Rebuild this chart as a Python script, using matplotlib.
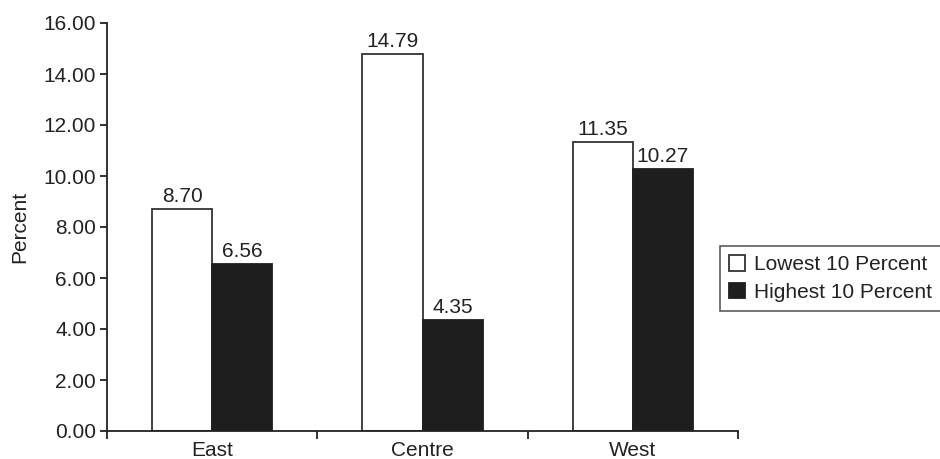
import numpy as np
import matplotlib.pyplot as plt

plt.rcParams['font.family'] = ['Liberation Sans', 'DejaVu Sans']

regions = ['East', 'Centre', 'West']
lowest = [8.70, 14.79, 11.35]
highest = [6.56, 4.35, 10.27]

fig = plt.figure(figsize=(9.4, 4.59), dpi=100)
ax = fig.add_axes([107 / 940, 1 - 431 / 459, (738 - 107) / 940, (431 - 23) / 459])

x = np.arange(len(regions))
w = 0.286
b1 = ax.bar(x - w / 2, lowest, w, color='white', edgecolor='#333333', linewidth=1.3,
            label='Lowest 10 Percent')
b2 = ax.bar(x + w / 2, highest, w, color='#1e1e1e', edgecolor='#1e1e1e', linewidth=1.3,
            label='Highest 10 Percent')

for bars, vals in ((b1, lowest), (b2, highest)):
    for r, v in zip(bars, vals):
        ax.annotate('%.2f' % v, (r.get_x() + r.get_width() / 2, v),
                    xytext=(0, 2), textcoords='offset points',
                    ha='center', va='bottom', fontsize=15, color='#222222')

ax.set_xlim(-0.5, 2.5)
ax.set_ylim(0, 16)
ax.set_yticks(np.arange(0, 17, 2))
ax.set_yticklabels(['%.2f' % t for t in np.arange(0, 17, 2)])
ax.set_xticks(x)
ax.set_xticklabels(regions)
ax.set_xticks([-0.5, 0.5, 1.5, 2.5], minor=True)
ax.tick_params(axis='x', which='major', length=0, labelsize=15, colors='#222222', pad=7)
ax.tick_params(axis='x', which='minor', length=6, width=1.3, color='#222222')
ax.tick_params(axis='y', length=5, width=1.3, labelsize=15, colors='#222222', pad=3)
ax.set_ylabel('Percent', fontsize=15, color='#222222', labelpad=10)

for s in ('top', 'right'):
    ax.spines[s].set_visible(False)
for s in ('left', 'bottom'):
    ax.spines[s].set_linewidth(1.3)
    ax.spines[s].set_color('#222222')

# legend box sits to the right of the axes, partly off the canvas
leg = fig.legend(loc='upper left', bbox_to_anchor=(720 / 940, 1 - 246 / 459),
                 borderaxespad=0, fontsize=15, frameon=True, fancybox=False,
                 edgecolor='#333333', handlelength=0.75, handleheight=0.75,
                 handletextpad=0.45, borderpad=0.45, labelspacing=0.4)
leg.get_frame().set_linewidth(1.2)
for t in leg.get_texts():
    t.set_color('#222222')

fig.savefig('out.png', dpi=100)
